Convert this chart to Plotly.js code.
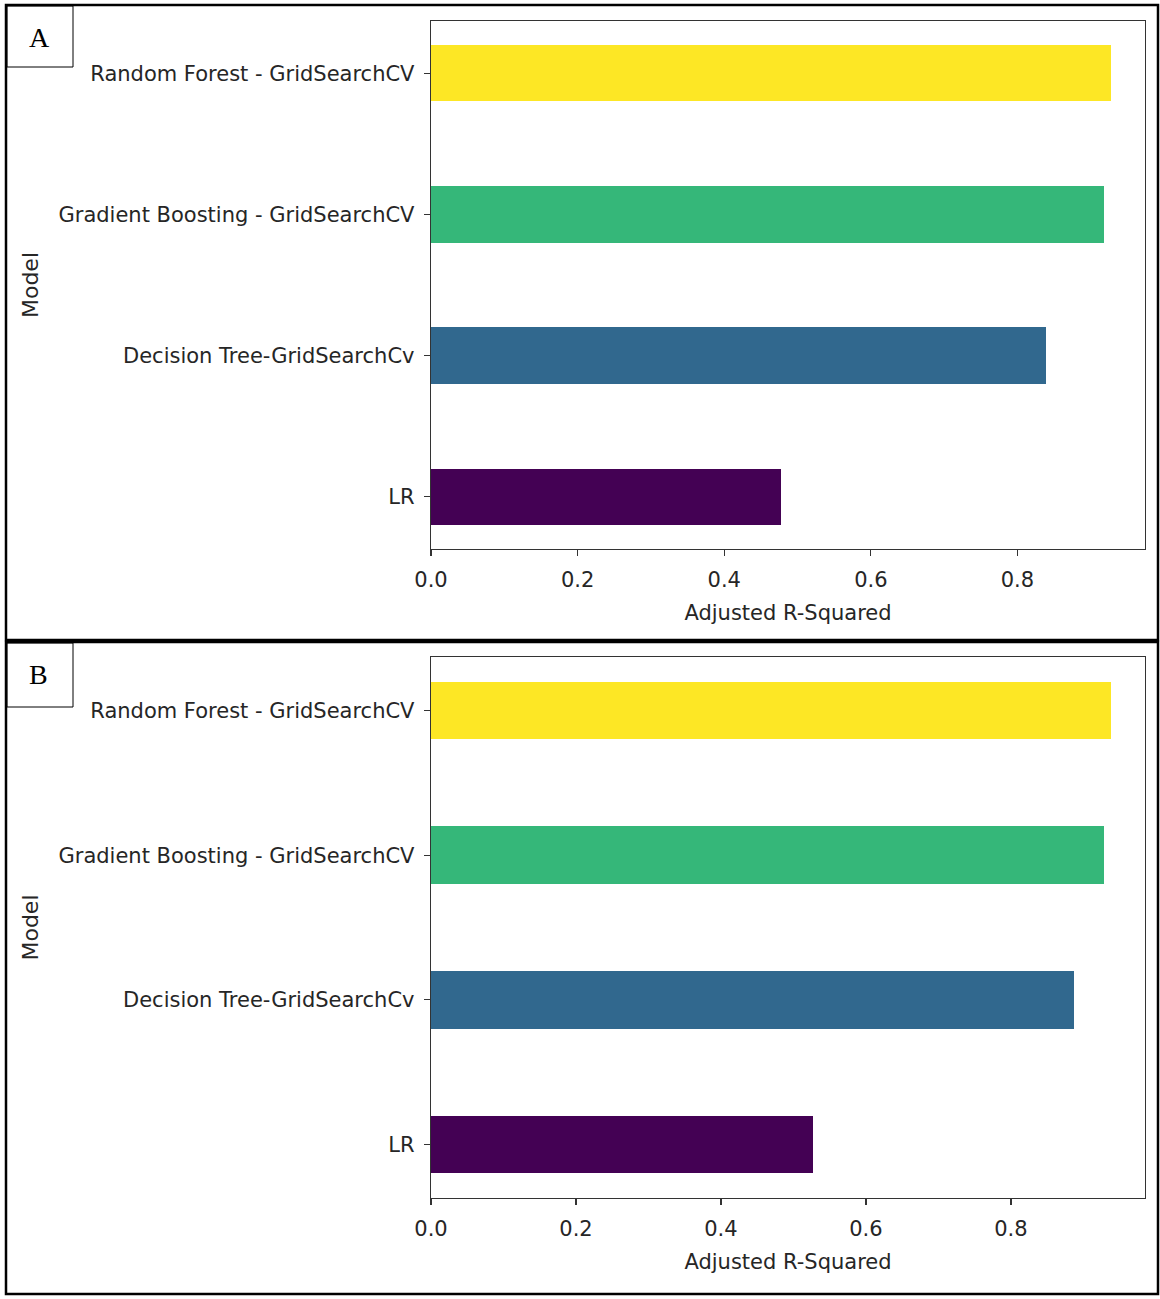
<!DOCTYPE html>
<html>
<head>
<meta charset="utf-8">
<script src="https://cdn.plot.ly/plotly-3.0.1.min.js"></script>
<style>
  html, body { margin: 0; padding: 0; background: #fff; }
  #chart { width: 1160px; height: 1299px; }
</style>
</head>
<body>
<div id="chart"></div>
<script>
// ---- data ----
const models = ['LR', 'Decision Tree-GridSearchCv', 'Gradient Boosting - GridSearchCV', 'Random Forest - GridSearchCV'];
const adjR2A = [0.477, 0.839, 0.918, 0.927];
const adjR2B = [0.527, 0.887, 0.929, 0.938];
const barColors = ['#440154', '#31688e', '#35b779', '#fde725'];
const xTickVals = [0, 0.2, 0.4, 0.6, 0.8];
const xTickText = ['0.0', '0.2', '0.4', '0.6', '0.8'];
const panelLabels = ['A', 'B'];

const W = 1160, H = 1299;
const px = v => v / W;
const py = v => 1 - v / H;

const tickFont = { family: 'DejaVu Sans, sans-serif', size: 21, color: '#262626' };
const titleFont = { family: 'DejaVu Sans, sans-serif', size: 21, color: '#262626' };

const traces = [
  { type: 'bar', orientation: 'h', y: models, x: adjR2A, width: 0.4,
    marker: { color: barColors, line: { width: 0 } }, xaxis: 'x', yaxis: 'y', hoverinfo: 'x+y' },
  { type: 'bar', orientation: 'h', y: models, x: adjR2B, width: 0.4,
    marker: { color: barColors, line: { width: 0 } }, xaxis: 'x2', yaxis: 'y2', hoverinfo: 'x+y' }
];

function xAxis(domain, range, anchor) {
  return {
    domain: domain, range: range, anchor: anchor,
    tickmode: 'array', tickvals: xTickVals, ticktext: xTickText,
    ticks: 'outside', ticklen: 6, tickwidth: 1.2, tickcolor: '#333',
    ticklabelstandoff: 5,
    showline: true, mirror: true, linecolor: '#333', linewidth: 1.3,
    showgrid: false, zeroline: false, tickfont: tickFont,
    title: { text: 'Adjusted R-Squared', font: titleFont, standoff: 14 }
  };
}
function yAxis(domain, anchor) {
  return {
    domain: domain, range: [-0.37, 3.37], anchor: anchor,
    type: 'category', categoryorder: 'array', categoryarray: models,
    ticks: 'outside', ticklen: 6, tickwidth: 1.2, tickcolor: '#333',
    ticklabelstandoff: 5,
    showline: true, mirror: true, linecolor: '#333', linewidth: 1.3,
    showgrid: false, zeroline: false, tickfont: tickFont,
    title: { text: 'Model', font: { family: 'DejaVu Sans, sans-serif', size: 22, color: '#262626' }, standoff: 13 }
  };
}

const shapes = [
  { type: 'rect', xref: 'paper', yref: 'paper', x0: px(6), x1: px(1158), y0: py(5), y1: py(640), line: { color: '#000', width: 2.5 } },
  { type: 'rect', xref: 'paper', yref: 'paper', x0: px(6), x1: px(1158), y0: py(642), y1: py(1294), line: { color: '#000', width: 2.5 } },
  { type: 'rect', xref: 'paper', yref: 'paper', x0: px(7), x1: px(73), y0: py(6), y1: py(67), line: { color: '#000', width: 1 } },
  { type: 'rect', xref: 'paper', yref: 'paper', x0: px(7), x1: px(73), y0: py(643), y1: py(707), line: { color: '#000', width: 1 } }
];

const annotations = [
  { text: panelLabels[0], xref: 'paper', yref: 'paper', x: px(39), y: py(37), showarrow: false,
    xanchor: 'center', yanchor: 'middle', font: { family: 'Liberation Serif, serif', size: 28, color: '#000' } },
  { text: panelLabels[1], xref: 'paper', yref: 'paper', x: px(38), y: py(674), showarrow: false,
    xanchor: 'center', yanchor: 'middle', font: { family: 'Liberation Serif, serif', size: 28, color: '#000' } }
];

const layout = {
  width: W, height: H,
  margin: { l: 0, r: 0, t: 0, b: 0 },
  paper_bgcolor: '#fff', plot_bgcolor: '#fff',
  showlegend: false, bargap: 0,
  xaxis: xAxis([px(431), px(1145)], [0, 0.974], 'y'),
  yaxis: yAxis([py(549), py(21)], 'x'),
  xaxis2: xAxis([px(431), px(1145)], [0, 0.985], 'y2'),
  yaxis2: yAxis([py(1198), py(657)], 'x2'),
  shapes: shapes,
  annotations: annotations
};

Plotly.newPlot('chart', traces, layout, { displayModeBar: false, staticPlot: true });
</script>
</body>
</html>
